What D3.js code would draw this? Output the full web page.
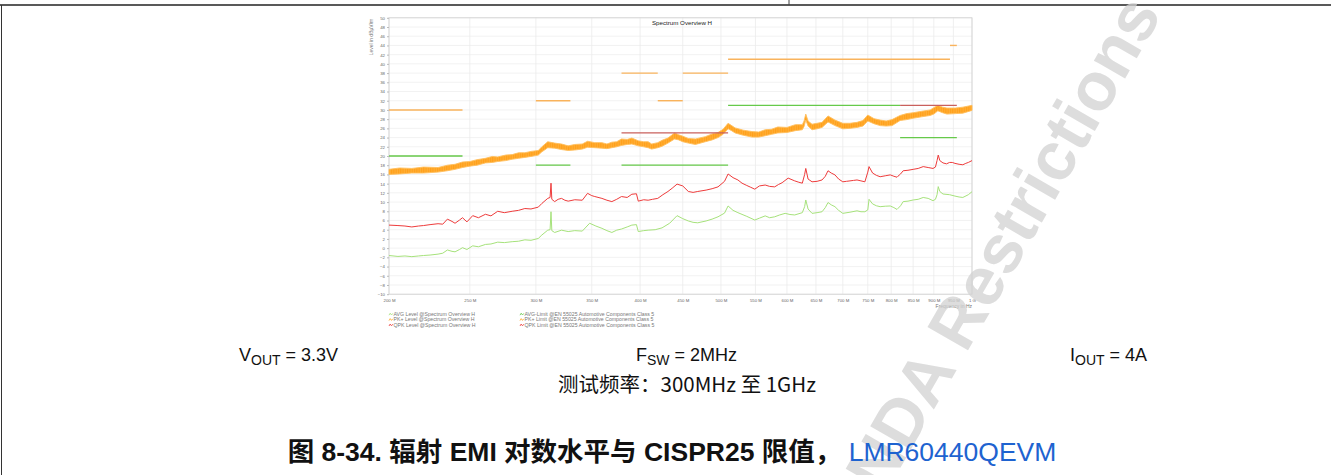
<!DOCTYPE html>
<html><head><meta charset="utf-8">
<script src="https://cdn.jsdelivr.net/npm/d3@7/dist/d3.min.js"></script>
<style>body{margin:0;background:#fff}svg{display:block}</style>
</head><body>
<svg id="c" width="1331" height="475"></svg>
<script>
// ---------- data ----------
const xTickValues = [200,250,300,350,400,450,500,550,600,650,700,750,800,850,900,950,1000];
const xTickLabels = ["200 M","250 M","300 M","350 M","400 M","450 M","500 M","550 M","600 M","650 M","700 M","750 M","800 M","850 M","900 M","950 M","1 G"];
const yTickValues = [-10,-8,-6,-4,-2,0,2,4,6,8,10,12,14,16,18,20,22,24,26,28,30,32,34,36,38,40,42,44,46,48,50];

// PK+ level (noisy band): frequency in MHz, upper and lower envelope in dBµV/m
const pkFreq = [200,206,213,220,229,235,240,245,250,255,261,266,270,276,281,286,291,296,302,305,310,316,322,328,334,341,346,353,360,365,370,375,380,386,391,398,404,409,413,420,425,432,440,445,450,457,466,479,488,496,503,510,515,520,532,545,555,565,575,585,600,614,626,629,632,636,643,652,661,672,685,700,714,728,740,750,763,776,789,802,820,835,850,870,891,900,910,922,933,955,975,1000];
const pkHigh = [17.1,17.4,17.3,17.6,17.5,18.0,18.2,18.7,18.8,19.2,19.5,19.9,19.8,20.2,20.3,20.7,20.7,21.0,21.2,22.0,23.1,22.8,22.6,22.2,22.5,22.6,23.2,22.9,22.9,22.6,23.0,23.1,23.7,23.6,23.9,23.3,23.1,23.1,22.6,22.9,23.4,23.9,25.0,24.6,24.3,23.8,23.7,24.2,24.8,25.1,25.8,27.1,26.6,26.1,25.6,25.3,25.2,25.7,25.8,26.3,26.2,26.8,26.8,27.6,29.1,27.6,26.9,27.1,27.3,28.7,27.8,27.1,27.1,27.3,27.7,28.9,28.1,27.8,27.6,27.9,28.8,29.2,29.4,29.7,30.0,30.5,31.0,30.6,30.4,30.4,30.6,31.0];
const pkLow  = [16.0,16.1,16.3,16.3,16.5,16.8,17.1,17.5,17.8,18.0,18.5,18.6,18.8,19.0,19.3,19.5,19.7,19.9,20.2,20.9,21.8,21.7,21.4,21.2,21.3,21.5,21.9,21.8,21.7,21.6,21.8,22.0,22.3,22.5,22.6,22.2,22.0,21.8,21.5,21.8,22.1,22.8,23.7,23.5,23.1,22.8,22.5,23.1,23.5,24.0,24.7,25.9,25.5,25.0,24.5,24.1,24.1,24.4,24.7,25.0,25.1,25.5,25.7,26.4,27.8,26.5,25.7,25.9,26.2,27.4,26.6,25.9,26.0,26.2,26.5,27.6,27.0,26.6,26.5,26.6,27.7,27.9,28.2,28.5,28.8,29.1,29.8,29.4,29.1,29.2,29.3,29.9];

// QPK level
const qpkFreq = [200,205,209,213,217,220,224,229,232,235,238,240,243,245,248,252,256,261,265,270,275,281,286,291,296,302,305,310,312,312.8,313.5,316,319,322,325,328,334,341,346,350,353,360,365,370,375,380,386,391,396,398,404,409,414,420,426,432,437,443,450,457,463,469,480,488,496,505,510,517,524,530,537,543,549,556,565,572,580,586,592,602,613,620,626,630,632,636,643,652,661,667,672,678,685,692,700,707,714,721,728,736,744,750,752.6,760,768,776,787,798,806,813,815,821,827,838,850,862,874,886,898,904,908,911,915,923,932,940,947,954,965,975,983,990,1000];
const qpkLevel = [5.0,4.9,4.8,4.6,4.8,4.9,5.1,5.3,5.2,6.3,5.8,5.4,6.1,6.6,5.7,7.05,6.6,7.35,7.0,8.0,7.7,8.0,8.2,8.6,8.5,8.9,9.7,10.8,11.0,14.1,10.6,10.1,10.6,10.8,10.4,10.2,10.5,10.4,11.9,11.4,11.2,10.8,10.4,10.1,10.6,11.2,11.0,11.7,11.8,10.2,10.5,10.4,10.6,10.8,11.6,12.3,13.0,13.9,13.5,12.3,12.1,12.3,12.6,12.9,13.3,14.5,16.1,15.3,14.8,14.1,13.6,13.2,12.8,13.5,13.7,13.4,13.3,13.8,14.2,15.2,14.6,14.3,14.1,16.0,17.3,15.0,14.4,14.5,14.8,15.6,16.8,16.3,15.9,15.0,14.4,14.5,14.6,14.7,14.8,14.6,14.4,16.5,17.7,16.3,15.8,15.5,15.7,15.9,15.6,15.4,15.6,16.1,16.8,16.9,17.1,17.3,17.7,17.5,17.3,17.6,19.0,20.2,19.0,18.5,18.3,18.6,18.6,18.4,18.2,18.1,18.4,18.6,19.0];

// AVG level
const avgFreq = [200,205,209,213,217,220,224,229,232,235,238,240,243,245,248,252,256,261,265,270,275,281,286,291,296,302,305,310,312,312.8,313.5,316,322,328,334,341,348,354,360,365,370,375,380,386,391,396,398,404,409,417,425,434,443,450,457,463,469,480,488,496,505,510,517,524,537,549,556,565,572,580,588,597,605,613,626,630,632,636,643,652,661,667,672,678,685,692,700,714,728,736,744,750,752.6,760,768,776,787,798,806,813,815,821,827,838,850,862,874,886,898,904,908,911,915,923,940,954,965,975,990,1000];
const avgLevel = [-1.6,-1.8,-1.7,-1.85,-1.7,-1.6,-1.5,-1.3,-1.1,-0.4,-0.7,-0.8,-0.3,0.1,-0.3,0.5,0.3,0.8,0.9,1.3,1.2,1.4,1.5,1.8,1.7,2.1,2.85,3.9,4.0,7.9,3.8,3.4,3.9,3.6,3.8,3.7,5.4,4.8,4.3,3.8,3.4,3.9,4.15,4.6,5.0,5.1,3.6,3.8,3.9,4.0,4.4,5.4,7.05,6.4,5.9,5.6,5.5,5.9,6.3,6.8,7.6,9.15,8.2,7.7,6.9,6.1,6.5,7.0,6.6,6.8,7.2,7.55,7.3,7.2,7.7,9.0,10.45,8.5,7.55,7.7,7.9,8.8,9.9,9.4,9.0,8.2,7.55,7.8,8.1,7.9,7.9,8.3,10.6,9.6,9.2,9.0,9.1,9.15,8.8,8.4,8.6,9.2,10.1,10.2,10.45,10.6,11.0,10.8,10.3,10.6,11.6,13.35,12.3,11.75,11.6,11.3,11.1,11.0,11.6,12.25];

// Limit segments: [fStart, fEnd, level]
const pkLimit  = [[200,245,30],[300,330,32],[380,420,38],[420,450,32],[450,510,38],[510,941,41],[941,959,44]];
const avgLimit = [[200,245,20],[300,330,18],[380,510,18],[510,820,31],[820,959,24]];
const qpkLimit = [[380,510,25],[820,959,31]];

const legendLeft  = ["AVG Level @Spectrum Overview H","PK+ Level @Spectrum Overview H","QPK Level @Spectrum Overview H"];
const legendRight = ["AVG-Limit @EN 55025 Automotive Components Class 5","PK+ Limit @EN 55025 Automotive Components Class 5","QPK Limit @EN 55025 Automotive Components Class 5"];

// ---------- drawing ----------
const C = {pk:"#FFA522", pkEdge:"#FFBE5C", pkLim:"#F9B35C", qpk:"#EE3B3B", qpkLim:"#C9605C", avg:"#A6E27B", avgLim:"#66C94A"};
const svg = d3.select("#c");
const FONT = "'Liberation Sans', Arial, sans-serif";

// noise-like texture for the PK+ band
const defs = svg.append("defs");
const pat = defs.append("pattern").attr("id","noise").attr("patternUnits","userSpaceOnUse").attr("width",2.3).attr("height",4);
pat.append("rect").attr("width",2.3).attr("height",4).attr("fill","#FFA01A");
pat.append("rect").attr("x",1.3).attr("width",0.7).attr("height",4).attr("fill","#FFB648");

// page frame
svg.append("line").attr("x1",0).attr("x2",1331).attr("y1",5).attr("y2",5).attr("stroke","#222").attr("stroke-width",1.6);
svg.append("line").attr("x1",789).attr("x2",789).attr("y1",0).attr("y2",5).attr("stroke","#444").attr("stroke-width",1);
svg.append("line").attr("x1",1.5).attr("x2",1.5).attr("y1",5).attr("y2",475).attr("stroke","#333").attr("stroke-width",1);

const L = 389, R = 972, T = 17.8, B = 294.2;
const x = d3.scaleLog().domain([200,1000]).range([L,R]);
const y = d3.scaleLinear().domain([-10,50]).range([B,T]);

const g = svg.append("g");
// grid
g.append("g").selectAll("line").data(yTickValues).join("line")
  .attr("x1",L).attr("x2",R).attr("y1",d=>y(d)).attr("y2",d=>y(d))
  .attr("stroke","#efefef").attr("stroke-width",0.8);
g.append("g").selectAll("line").data(xTickValues).join("line")
  .attr("x1",d=>x(d)).attr("x2",d=>x(d)).attr("y1",T).attr("y2",B)
  .attr("stroke","#ebebeb").attr("stroke-width",0.8);
g.append("rect").attr("x",L).attr("y",T).attr("width",R-L).attr("height",B-T)
  .attr("fill","none").attr("stroke","#cfcfcf").attr("stroke-width",0.8);

// axes
const yAxis = d3.axisLeft(y).tickValues(yTickValues).tickSize(2).tickPadding(2);
const ya = g.append("g").attr("transform",`translate(${L},0)`).call(yAxis);
const xAxis = d3.axisBottom(x).tickValues(xTickValues).tickFormat((d,i)=>xTickLabels[i]).tickSize(0).tickPadding(5);
const xa = g.append("g").attr("transform",`translate(0,${B})`).call(xAxis);
[ya,xa].forEach(a=>{
  a.select(".domain").remove();
  a.selectAll(".tick line").attr("stroke","#bbb");
  a.selectAll("text").attr("font-size",4.3).attr("font-family",FONT).attr("fill","#666");
});

g.append("text").attr("transform",`translate(373,37) rotate(-90)`).attr("text-anchor","middle")
  .attr("font-size",5).attr("font-family",FONT).attr("fill","#777").text("Level in dBµV/m");
g.append("text").attr("x",972).attr("y",308).attr("text-anchor","end")
  .attr("font-size",5).attr("font-family",FONT).attr("fill","#777").text("Frequency in Hz");
g.append("text").attr("x",682).attr("y",24.5).attr("text-anchor","middle")
  .attr("font-size",6.2).attr("font-family",FONT).attr("fill","#222").text("Spectrum Overview H");

// series
const pkData = pkFreq.map((f,i)=>({f,h:pkHigh[i],l:pkLow[i]}));
g.append("path").datum(pkData).attr("fill","url(#noise)").attr("stroke",C.pkEdge).attr("stroke-width",0.9)
  .attr("d",d3.area().x(d=>x(d.f)).y0(d=>y(d.l)).y1(d=>y(d.h)));
const line = d3.line().x(d=>x(d[0])).y(d=>y(d[1]));
g.append("path").datum(qpkFreq.map((f,i)=>[f,qpkLevel[i]])).attr("fill","none")
  .attr("stroke",C.qpk).attr("stroke-width",1).attr("d",line);
g.append("path").datum(avgFreq.map((f,i)=>[f,avgLevel[i]])).attr("fill","none")
  .attr("stroke",C.avg).attr("stroke-width",1).attr("d",line);

// limits
function limits(data,color,w){
  g.append("g").selectAll("line").data(data).join("line")
    .attr("x1",d=>x(d[0])).attr("x2",d=>x(d[1])).attr("y1",d=>y(d[2])).attr("y2",d=>y(d[2]))
    .attr("stroke",color).attr("stroke-width",w);
}
limits(avgLimit,C.avgLim,1.3);
limits(pkLimit,C.pkLim,1.4);
limits(qpkLimit,C.qpkLim,1.3);

// legend
function legend(items,colors,x0){
  items.forEach((t,i)=>{
    const yy = 314 + i*5.4;
    svg.append("path").attr("d",`M${x0},${yy+1.2} l1.2,-2 l1.3,1.8 l1.3,-1.6`).attr("fill","none")
      .attr("stroke",colors[i]).attr("stroke-width",0.8);
    svg.append("text").attr("x",x0+4.5).attr("y",yy+1.8).attr("font-size",5.2).attr("font-family",FONT)
      .attr("fill","#777").text(t);
  });
}
legend(legendLeft,[C.avg,C.pk,C.qpk],389);
legend(legendRight,[C.avgLim,C.pk,C.qpk],520);

// watermark (over the chart image, under the page text)
svg.append("text").attr("transform","translate(884,496) rotate(-60)").attr("font-size",68).attr("font-weight","bold")
  .attr("font-family",FONT).attr("fill","#d2d2d2").attr("opacity",0.75).text("NDA Restrictions");

// page texts
function sub(xx,yy,main,s,rest){
  const t = svg.append("text").attr("x",xx).attr("y",yy).attr("font-size",18).attr("font-family",FONT).attr("fill","#111");
  t.append("tspan").text(main);
  t.append("tspan").attr("font-size",14).attr("dy",4).text(s);
  t.append("tspan").attr("dy",-4).text(rest);
}
sub(239,361,"V","OUT"," = 3.3V");
sub(636,361,"F","SW"," = 2MHz");
sub(1070,361,"I","OUT"," = 4A");
svg.append("text").attr("x",687).attr("y",392).attr("text-anchor","middle").attr("font-size",20.5)
  .attr("font-family","'Noto Sans CJK SC', 'Liberation Sans', sans-serif").attr("fill","#111").text("测试频率：300MHz 至 1GHz");
const cap = svg.append("text").attr("x",672).attr("y",461).attr("text-anchor","middle").attr("font-size",26.5)
  .attr("font-family","'Liberation Sans','Noto Sans CJK SC', sans-serif").attr("fill","#111");
cap.append("tspan").attr("font-weight","bold").text("图 8-34. 辐射 EMI 对数水平与 CISPR25 限值， ");
cap.append("tspan").attr("fill","#1E63D0").text("LMR60440QEVM");
</script>
</body></html>
